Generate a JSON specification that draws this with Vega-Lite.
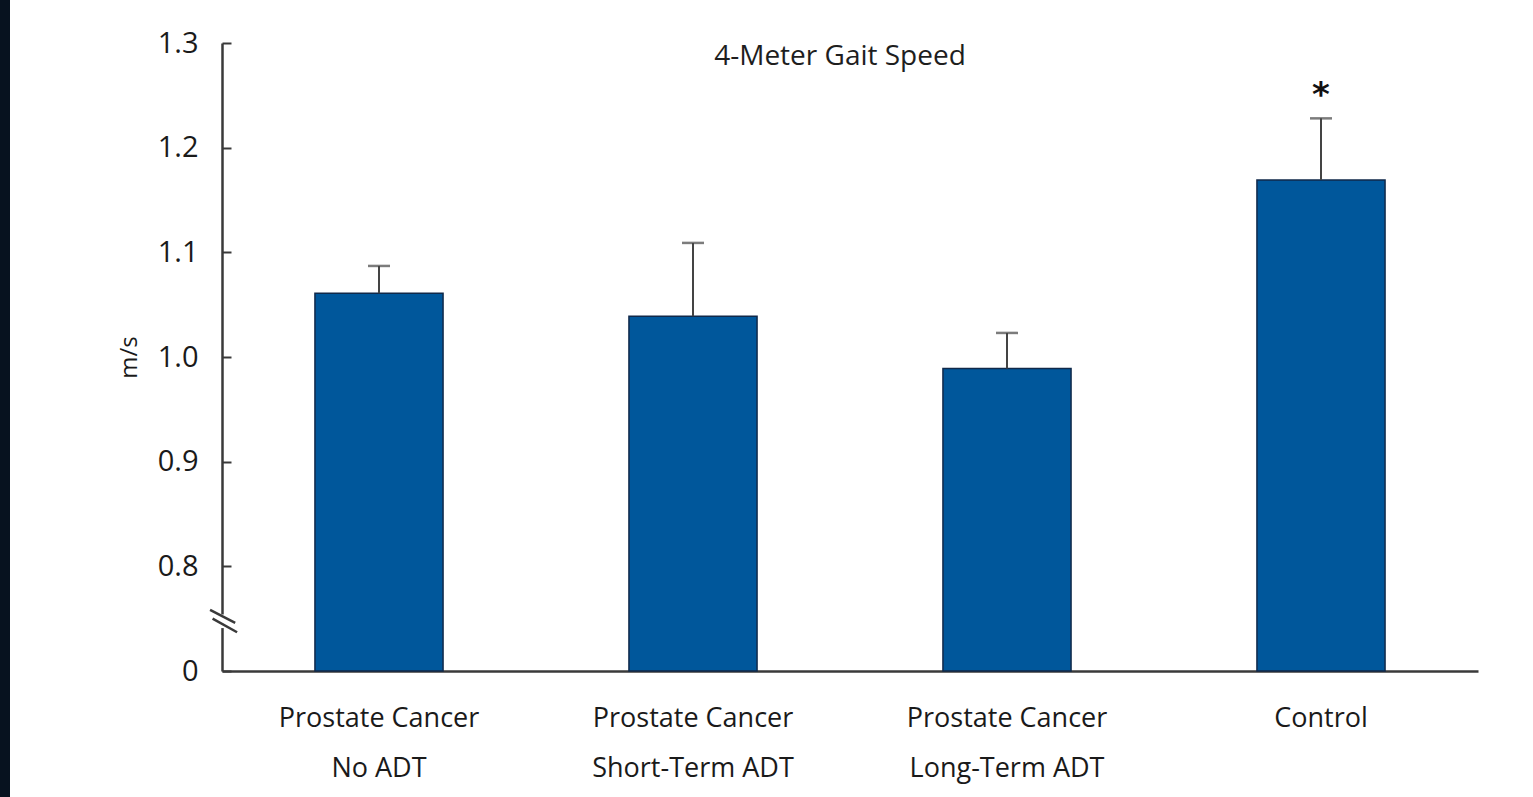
{
  "$schema": "https://vega.github.io/schema/vega-lite/v6.json",
  "autosize": {"type": "none"},
  "width": 1256,
  "height": 628,
  "padding": {"left": 222, "top": 43, "right": 55, "bottom": 126},
  "background": "#07121f",
  "config": {
    "view": {"fill": "white", "stroke": "white", "strokeWidth": 424},
    "font": "Open Sans",
    "axis": {"grid": false}
  },
  "title": {
    "text": "4-Meter Gait Speed",
    "anchor": "middle",
    "frame": "group",
    "orient": "top",
    "offset": -42,
    "dx": -10,
    "fontSize": 28,
    "fontWeight": "normal",
    "color": "#1e1e1e",
    "font": "Open Sans"
  },
  "datasets": {
    "bars": [
      {"group": "Prostate Cancer|No ADT", "value": 1.061, "err": 1.087, "sig": ""},
      {"group": "Prostate Cancer|Short-Term ADT", "value": 1.039, "err": 1.109, "sig": ""},
      {"group": "Prostate Cancer|Long-Term ADT", "value": 0.989, "err": 1.023, "sig": ""},
      {"group": "Control", "value": 1.169, "err": 1.228, "sig": "*"}
    ],
    "axisbreak": [
      {"bx": -0.0095, "bx2": 0.0105, "by": 0.7585, "by2": 0.746},
      {"bx": -0.0075, "bx2": 0.012, "by": 0.750, "by2": 0.737}
    ],
    "gap": [
      {"gx": -0.004, "gx2": 0.004, "gy": 0.741, "gy2": 0.754}
    ]
  },
  "layer": [
    {
      "data": {"name": "bars"},
      "layer": [
        {
          "mark": {"type": "bar", "color": "#00579b", "stroke": "#10294a", "strokeWidth": 1.5},
          "encoding": {
            "x": {
              "field": "group", "type": "nominal", "sort": null,
              "scale": {"paddingInner": 0.592, "paddingOuter": 0.296},
              "axis": {
                "title": null,
                "labelAngle": 0,
                "ticks": false,
                "domainColor": "#3a3a3a",
                "domainWidth": 2.5,
                "labelExpr": "split(datum.label, '|')",
                "labelFontSize": 27,
                "labelLineHeight": 50,
                "labelPadding": 34,
                "labelLimit": 0,
                "labelColor": "#1a1a1a",
                "labelFont": "Open Sans"
              }
            },
            "y": {
              "field": "value", "type": "quantitative",
              "scale": {"domain": [0.7, 1.3], "zero": false, "nice": false},
              "axis": {
                "title": "m/s",
                "titleFontSize": 24,
                "titleFontWeight": "normal",
                "titleColor": "#1a1a1a",
                "titlePadding": 16,
                "titleFont": "Open Sans",
                "values": [0.7, 0.8, 0.9, 1.0, 1.1, 1.2, 1.3],
                "labelExpr": "datum.value < 0.75 ? '0' : format(datum.value, '.1f')",
                "labelFontSize": 29,
                "labelColor": "#1a1a1a",
                "labelFont": "Open Sans",
                "tickSize": -9,
                "tickWidth": 2,
                "tickColor": "#3a3a3a",
                "labelPadding": 33,
                "domainColor": "#3a3a3a",
                "domainWidth": 2.5
              }
            },
            "y2": {"datum": 0.7}
          }
        },
        {
          "mark": {"type": "rule", "color": "#444444", "strokeWidth": 2},
          "encoding": {
            "x": {"field": "group", "type": "nominal", "sort": null},
            "y": {"field": "value", "type": "quantitative"},
            "y2": {"field": "err"}
          }
        },
        {
          "mark": {"type": "tick", "color": "#444444", "thickness": 2.5, "size": 22},
          "encoding": {
            "x": {"field": "group", "type": "nominal", "sort": null},
            "y": {"field": "err", "type": "quantitative"}
          }
        },
        {
          "mark": {"type": "text", "fontSize": 34, "fontWeight": "bold", "baseline": "middle", "dy": -22, "color": "#111111", "font": "DejaVu Sans"},
          "encoding": {
            "x": {"field": "group", "type": "nominal", "sort": null},
            "y": {"field": "err", "type": "quantitative"},
            "text": {"field": "sig"}
          }
        }
      ]
    },
    {
      "data": {"name": "gap"},
      "mark": {"type": "rect", "color": "white"},
      "encoding": {
        "x": {"field": "gx", "type": "quantitative", "scale": {"domain": [0, 1], "nice": false, "zero": false}, "axis": null},
        "x2": {"field": "gx2"},
        "y": {"field": "gy", "type": "quantitative"},
        "y2": {"field": "gy2"}
      }
    },
    {
      "data": {"name": "axisbreak"},
      "mark": {"type": "rule", "color": "#3a3a3a", "strokeWidth": 2.5},
      "encoding": {
        "x": {"field": "bx", "type": "quantitative", "scale": {"domain": [0, 1], "nice": false, "zero": false}, "axis": null},
        "x2": {"field": "bx2"},
        "y": {"field": "by", "type": "quantitative"},
        "y2": {"field": "by2"}
      }
    }
  ],
  "resolve": {"scale": {"x": "independent"}}
}
